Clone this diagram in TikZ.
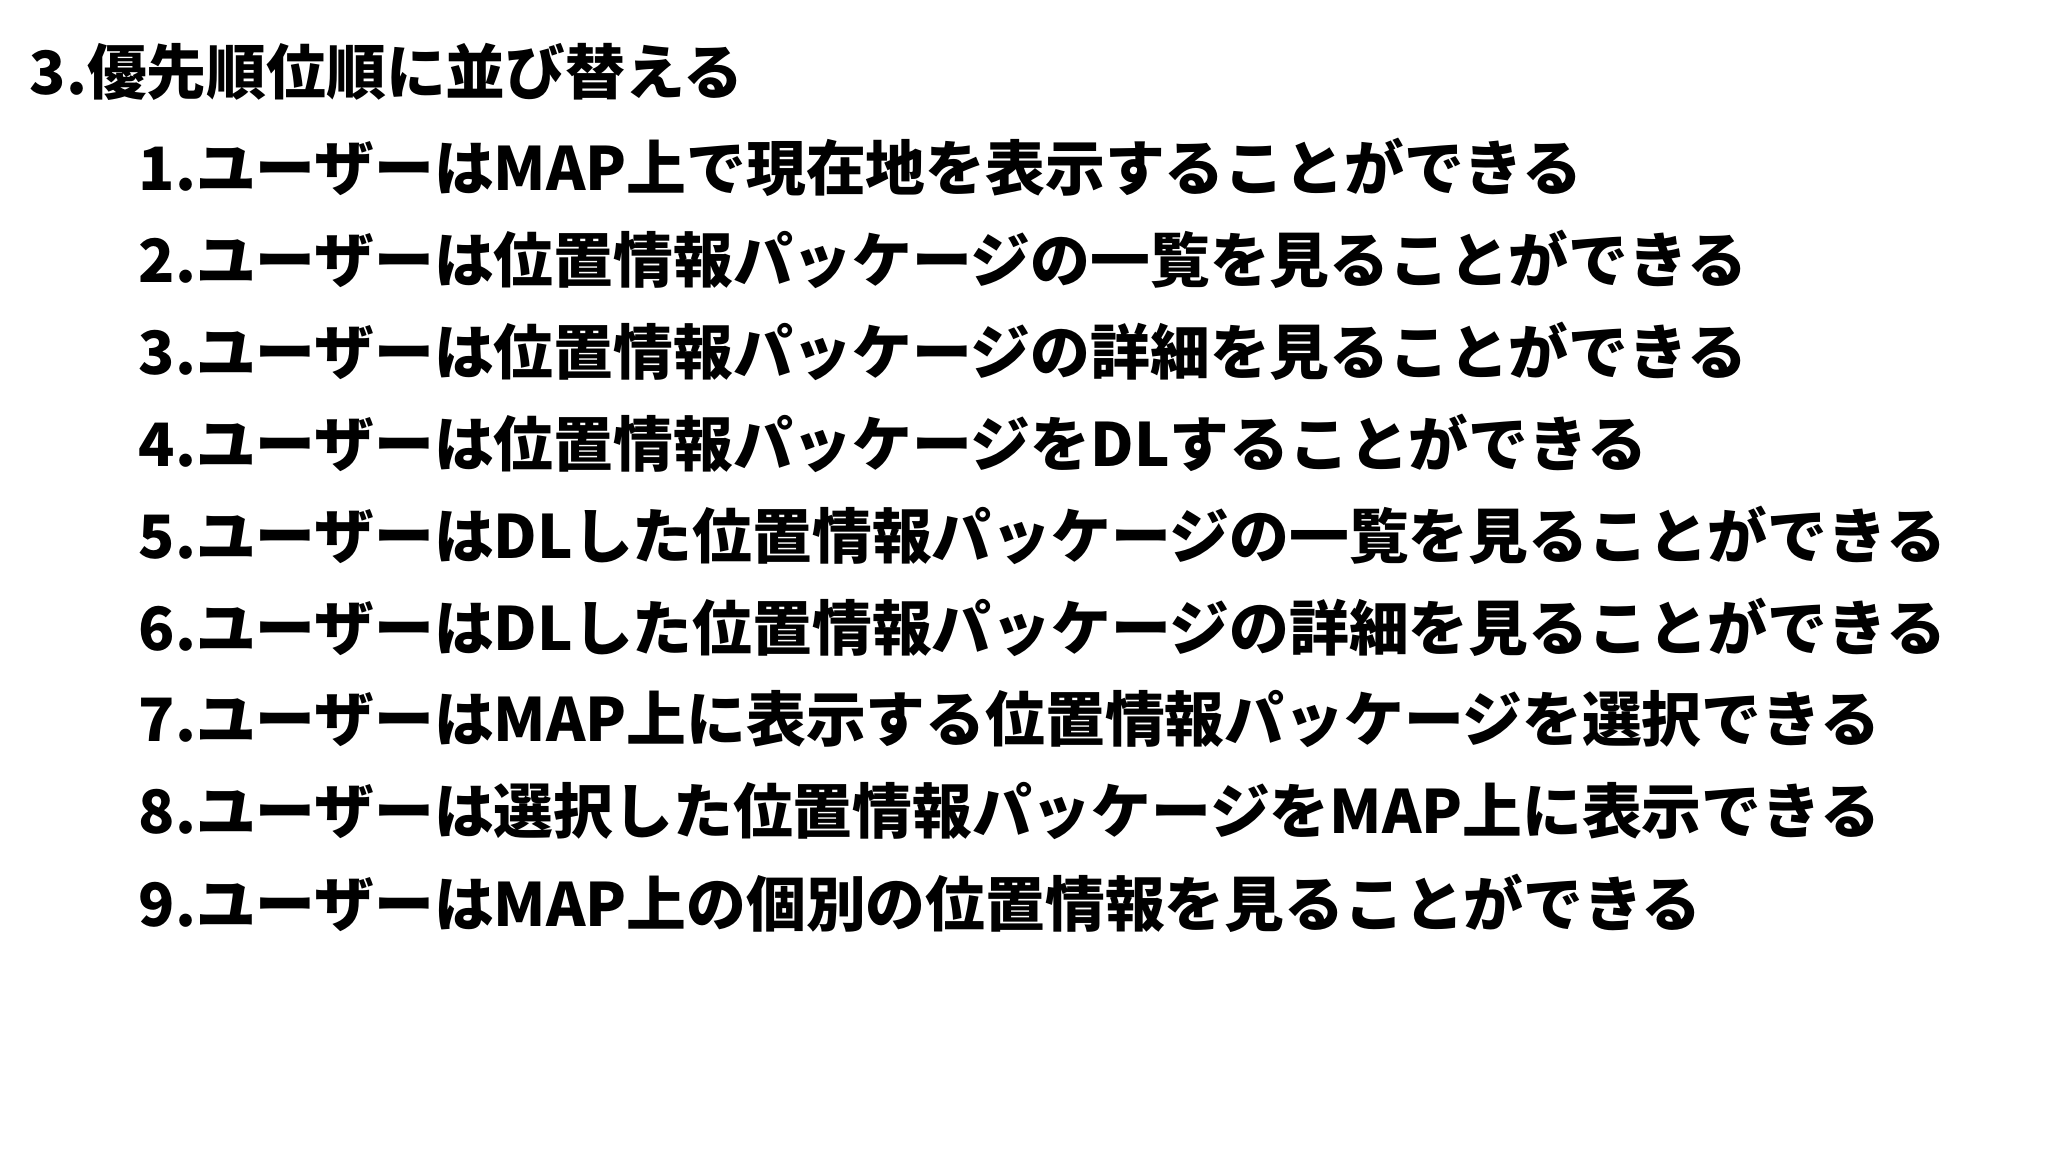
\documentclass[tikz,border=0pt]{standalone}
\usepackage{fontspec}
\newfontfamily\jp{Noto Sans CJK JP}
\begin{document}
\begin{tikzpicture}[x=0.01cm,y=-0.01cm,
  item/.style={anchor=west,inner sep=0,font=\jp\bfseries\fontsize{17}{20}\selectfont}]
\useasboundingbox[fill=white] (0,0) rectangle (2048,1152);
\node[item] (t) at (29,72) {3.優先順位順に並び替える};
\node[item] (i1) at (138,167) {1.ユーザーはMAP上で現在地を表示することができる};
\node[item] (i2) at (138,259) {2.ユーザーは位置情報パッケージの一覧を見ることができる};
\node[item] (i3) at (138,351) {3.ユーザーは位置情報パッケージの詳細を見ることができる};
\node[item] (i4) at (138,443) {4.ユーザーは位置情報パッケージをDLすることができる};
\node[item] (i5) at (138,535) {5.ユーザーはDLした位置情報パッケージの一覧を見ることができる};
\node[item] (i6) at (138,627) {6.ユーザーはDLした位置情報パッケージの詳細を見ることができる};
\node[item] (i7) at (138,719) {7.ユーザーはMAP上に表示する位置情報パッケージを選択できる};
\node[item] (i8) at (138,811) {8.ユーザーは選択した位置情報パッケージをMAP上に表示できる};
\node[item] (i9) at (138,903) {9.ユーザーはMAP上の個別の位置情報を見ることができる};
\end{tikzpicture}
\end{document}
